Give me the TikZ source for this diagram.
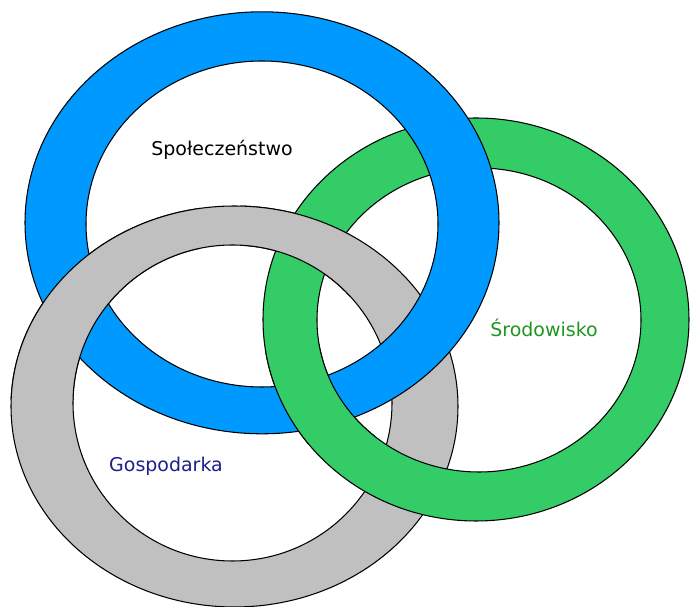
\documentclass[tikz,border=0pt]{standalone}
\usepackage{fontspec}
\setmainfont{DejaVu Sans}
\usepackage{tikz}

\definecolor{ringblue}{RGB}{0,153,255}
\definecolor{ringgreen}{RGB}{51,204,102}
\definecolor{ringgray}{RGB}{192,192,192}
\definecolor{txtblue}{RGB}{30,30,140}
\definecolor{txtgreen}{RGB}{30,150,30}

% ring: colour, outer centre, outer radii, inner centre, inner radii
\newcommand{\olring}[5]{%
  \filldraw [#1, draw=black, line width=0.6pt, even odd rule] (#2) ellipse (#3) (#4) ellipse (#5);}

\begin{document}
\begin{tikzpicture}[x=0.02cm, y=-0.02cm]
                \tikzstyle{label}=[inner sep=0pt, font=\fontsize{10.8}{13}\selectfont]
                \useasboundingbox (0,0) rectangle (691,607);
                \olring{ringgray}{234.5,406.5}{223.5 and 200.5}{232.5,403}{159.5 and 158}
                \olring{ringgreen}{476,319.5}{213 and 201.5}{479,320}{162 and 152}
                \olring{ringblue}{262,222.8}{237 and 211}{262,224}{176 and 163}
                % gray over blue on the left
                \begin{scope}
                \clip (0,200) rectangle (200,400);
                \olring{ringgray}{234.5,406.5}{223.5 and 200.5}{232.5,403}{159.5 and 158}
                \end{scope}
                % gray over green at the top
                \begin{scope}
                \clip (240,190) rectangle (350,300);
                \olring{ringgray}{234.5,406.5}{223.5 and 200.5}{232.5,403}{159.5 and 158}
                \end{scope}
                % green over blue at the bottom
                \begin{scope}
                \clip (265,345) rectangle (375,445);
                \olring{ringgreen}{476,319.5}{213 and 201.5}{479,320}{162 and 152}
                \end{scope}
                \node [label, black] (spol) at (222,150) {Społeczeństwo};
                \node [label, txtblue] (gosp) at (166,466) {Gospodarka};
                \node [label, txtgreen] (srod) at (544,328) {Środowisko};
\end{tikzpicture}
\end{document}
